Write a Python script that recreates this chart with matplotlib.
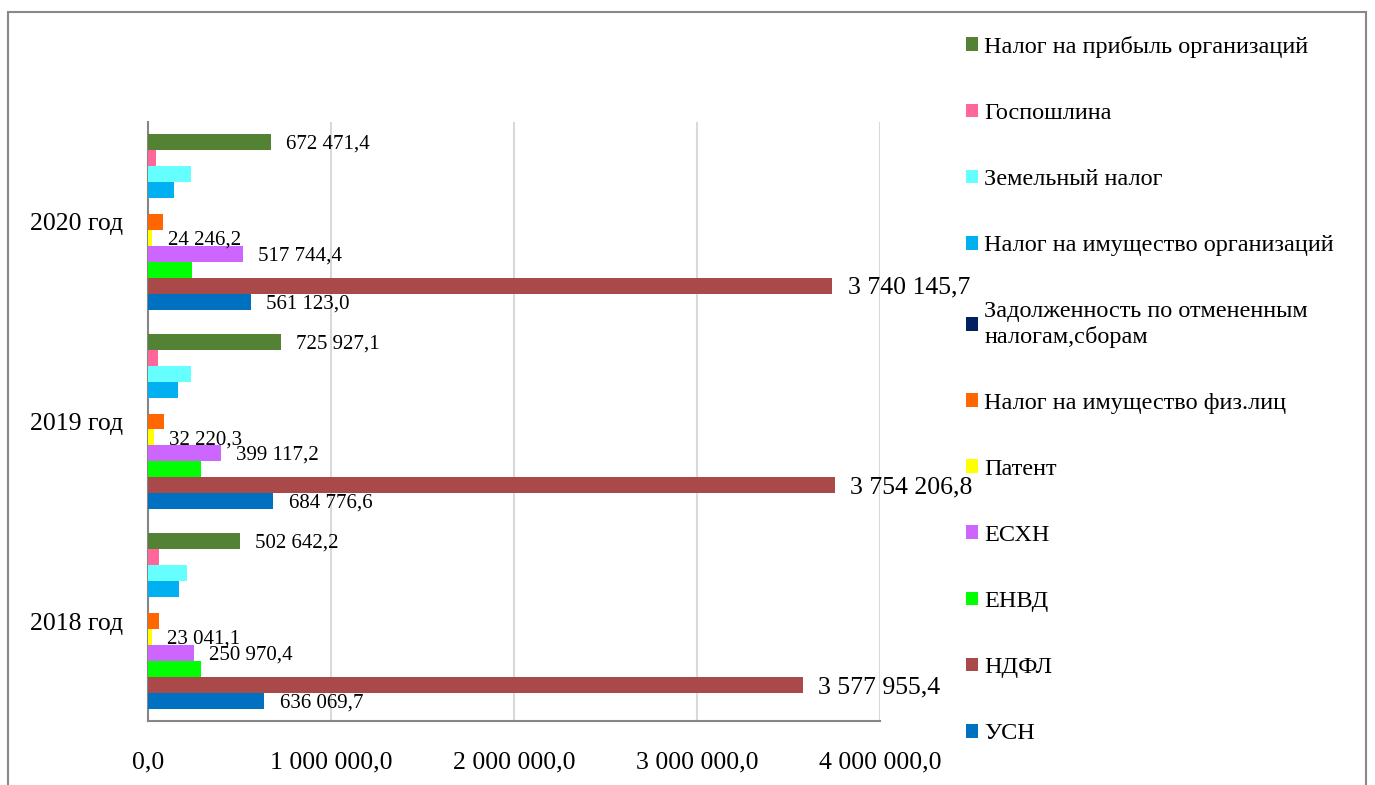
import matplotlib.pyplot as plt
from matplotlib.patches import Rectangle
from matplotlib.ticker import FuncFormatter

plt.rcParams['font.family'] = ['Liberation Serif', 'DejaVu Serif']

years = ["2018 год", "2019 год", "2020 год"]

# series from the bottom bar of a group to the top one
series = [
    "УСН",
    "НДФЛ",
    "ЕНВД",
    "ЕСХН",
    "Патент",
    "Налог на имущество физ.лиц",
    "Задолженность по отмененным\nналогам,сборам",
    "Налог на имущество организаций",
    "Земельный налог",
    "Госпошлина",
    "Налог на прибыль организаций",
]
colors = ["#0070C0", "#A9494A", "#00FF00", "#CC66FF", "#FFFF00", "#FF6600",
          "#002060", "#00B0F0", "#66FFFF", "#FF6699", "#548235"]

# values for 2018, 2019, 2020
usn = [636069.7, 684776.6, 561123.0]
ndfl = [3577955.4, 3754206.8, 3740145.7]
envd = [292000, 290000, 243000]
eshn = [250970.4, 399117.2, 517744.4]
patent = [23041.1, 32220.3, 24246.2]
imush_fiz = [58000, 90000, 84000]
zadolzh = [0, 0, 0]
imush_org = [170000, 164000, 142000]
zemel = [215000, 235000, 235000]
gosposhl = [58000, 55000, 46000]
pribyl = [502642.2, 725927.1, 672471.4]

values = [usn, ndfl, envd, eshn, patent, imush_fiz, zadolzh,
          imush_org, zemel, gosposhl, pribyl]
labelled = {"УСН": 15, "НДФЛ": 18.5, "ЕСХН": 15, "Патент": 15,
            "Налог на прибыль организаций": 15}


def fmt(v, pos=None):
    s = f"{v:,.1f}"
    return s.replace(",", " ").replace(".", ",")


fig = plt.figure(figsize=(13.75, 7.85), dpi=100)
ax = fig.add_axes([0.1076, 0.0815, 0.5324, 0.7631])

h = 0.08
handles = []
for i, (name, vals, c) in enumerate(zip(series, values, colors)):
    pos = [k + (i - 5) * h for k in range(len(years))]
    bars = ax.barh(pos, vals, height=h, color=c, label=name, zorder=3)
    handles.append(bars)
    if name in labelled:
        for p, v in zip(pos, vals):
            ax.annotate(fmt(v), (v, p), xytext=(11, -1.5), textcoords="offset points",
                        va="center", ha="left", fontsize=labelled[name], zorder=4)

ax.set_xlim(0, 4000000)
ax.set_ylim(-0.5, 2.5)
ax.set_xticks([0, 1000000, 2000000, 3000000, 4000000])
ax.xaxis.set_major_formatter(FuncFormatter(fmt))
ax.set_yticks(range(len(years)))
ax.set_yticklabels(years)
ax.tick_params(axis="x", length=0, pad=22, labelsize=18.5)
ax.tick_params(axis="y", length=0, pad=18, labelsize=18.5)
ax.grid(axis="x", color="#D9D9D9", linewidth=1.5, zorder=0)
for s in ["top", "right"]:
    ax.spines[s].set_visible(False)
for s in ["left", "bottom"]:
    ax.spines[s].set_color("#868686")
    ax.spines[s].set_linewidth(1.5)

fig.legend(handles[::-1], series[::-1], loc="upper left",
           bbox_to_anchor=(966 / 1375, 1 - 36 / 785), frameon=False,
           fontsize=17.5, handlelength=0.5, handleheight=0.5,
           handletextpad=0.25, labelspacing=1.855, borderpad=0, borderaxespad=0)

fig.patches.append(Rectangle((8 / 1375, -0.02), 1358 / 1375, 1.012 - 6 / 785,
                             transform=fig.transFigure, fill=False,
                             edgecolor="#888888", linewidth=1.5))

fig.savefig("out.png", dpi=100)
